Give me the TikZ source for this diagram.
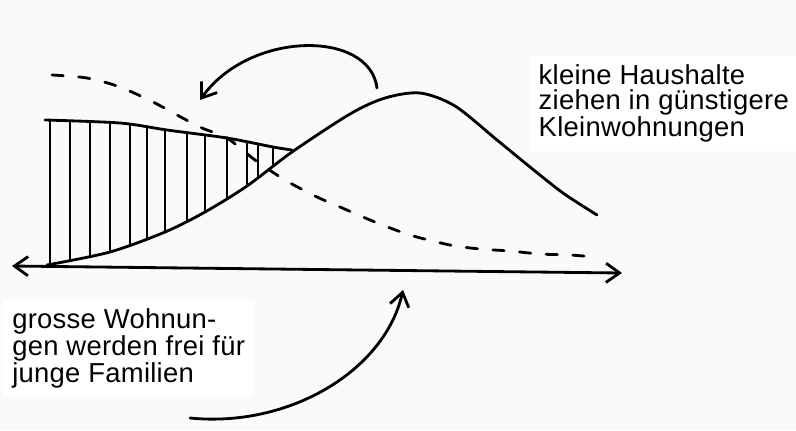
\documentclass[tikz,border=0pt]{standalone}
\usepackage{fontspec}
\newfontfamily\sketchfont[LetterSpace=1]{Liberation Sans}
\usetikzlibrary{arrows.meta,positioning,calc}

\begin{document}
\begin{tikzpicture}[x=0.025cm,y=-0.025cm,>={Straight Barb[length=3.4mm,width=4.8mm]},
  pen/.style={line width=2pt,line cap=round,line join=round},
  txtbox/.style={font=\sketchfont\fontsize{19.5}{18}\selectfont,align=left,fill=white,inner sep=6pt,anchor=north west}]
\fill[black!2,use as bounding box] (0,0) rectangle (796,430);
\coordinate (axl) at(12,266);\coordinate (axr) at(622,273);
\coordinate (ta) at(377,88);\coordinate (tb) at(200,100);
\coordinate (ba) at(190,418);\coordinate (bb) at(403,290);
\begin{scope}
\clip plot[smooth] coordinates{(45,120) (120,123) (167,130) (227,138) (273,147) (292,150)}
  -- plot[smooth] coordinates{(292,152) (247,186) (205,212) (165,232) (110,252) (47,265)} -- cycle;
\foreach \x in {50,70,90,110,130,147,165,187,205,227,247,258,273}
  \draw[pen] (\x,100)--(\x,280);
\end{scope}
\draw[pen] plot[smooth] coordinates{(45,120) (120,123) (167,130) (227,138) (273,147) (292,150)};
\draw[pen] plot[smooth] coordinates{(47,265) (110,252) (165,232) (205,212) (247,186) (292,152)
  (350,114) (385,98) (420,93) (455,106) (497,140) (530,167) (563,193) (597,215)};
\draw[pen,dash pattern=on 8pt off 11pt] plot[smooth] coordinates{(52,75) (87,78) (120,87) (153,102)
  (177,115) (202,128) (227,138) (255,160) (285,180) (315,196) (340,207) (375,222) (410,235)
  (450,245) (480,249) (510,251) (540,254) (570,255) (595,257)};
\draw[pen,<->] (axl)--(axr);
\draw[pen,->] (ta) .. controls (370,30) and (250,30) .. (tb);
\draw[pen,->] (ba) .. controls (290,428) and (385,370) .. (bb);
\node[txtbox] (small) at(530,56){kleine Haushalte\\ziehen in günstigere\\Kleinwohnungen};
\node[txtbox] (large) at(3.6,300){grosse Wohnun-\\gen werden frei für\\junge Familien};
\end{tikzpicture}
\end{document}
